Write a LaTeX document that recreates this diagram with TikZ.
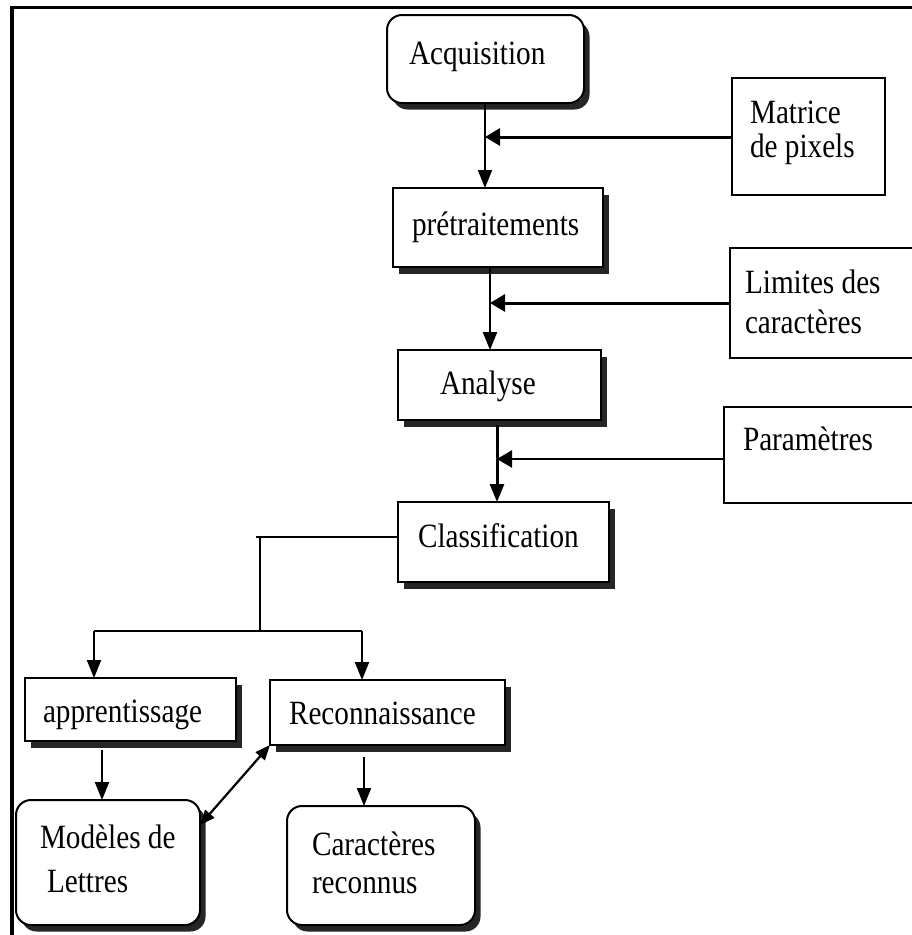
\documentclass[tikz,border=0pt]{standalone}
\usepackage{fontspec}
\setmainfont{Liberation Serif}[FakeStretch=0.86]
\usetikzlibrary{arrows.meta,shadows}
\begin{document}
\begin{tikzpicture}[x=1pt,y=-1pt,
  every node/.style={inner sep=0pt, outer sep=0pt},
  box/.style={draw, line width=2pt, fill=white,
    drop shadow={shadow xshift=5.5pt, shadow yshift=-6.5pt, fill=black!85, opacity=1}},
  rbox/.style={box, rounded corners=15pt},
  sidebox/.style={draw, line width=1.7pt, fill=white},
  lbl/.style={anchor=base west, font=\fontsize{34}{38}\selectfont},
  link/.style={line width=2pt},
  arr/.style={line width=2pt, -{Triangle[length=18pt,width=14pt]}},
  harr/.style={line width=3pt, -{Triangle[length=15pt,width=17pt]}},
  darr/.style={line width=2.2pt, {Triangle[length=15pt,width=12pt]}-{Triangle[length=15pt,width=12pt]}}
]
\useasboundingbox (0,0) rectangle (911,935);
\fill[white] (0,0) rectangle (911,935);

% outer frame (top and left edges)
\draw[line width=3.5pt] (12,940) -- (12,7.5) -- (915,7.5);

% main chain
\node[rbox, minimum width=197pt, minimum height=88pt] (acq) at (485.5,59) {};
\node[lbl] (acq-t) at (409,64) {Acquisition};

\node[box, minimum width=210pt, minimum height=79pt] (pre) at (498,227.5) {};
\node[lbl] (pre-t) at (412,235) {prétraitements};

\node[box, minimum width=203pt, minimum height=70pt] (ana) at (499.5,385) {};
\node[lbl] (ana-t) at (440,394) {Analyse};

\node[box, minimum width=211pt, minimum height=80pt] (cla) at (503.5,542) {};
\node[lbl] (cla-t) at (418,547) {Classification};

% side inputs
\node[sidebox, minimum width=153pt, minimum height=117pt] (mat) at (808.5,136.5) {};
\node[lbl] (mat-t1) at (750,123) {Matrice};
\node[lbl] (mat-t2) at (750,157) {de pixels};

\node[sidebox, minimum width=195pt, minimum height=110pt] (lim) at (827.5,303) {};
\node[lbl] (lim-t1) at (745,293) {Limites des};
\node[lbl] (lim-t2) at (745,333) {caractères};

\node[sidebox, minimum width=201pt, minimum height=96pt] (par) at (824.5,455) {};
\node[lbl] (par-t) at (743,450) {Paramètres};

% lower branch
\node[box, minimum width=211pt, minimum height=63pt] (app) at (130.5,709.5) {};
\node[lbl] (app-t) at (43,722) {apprentissage};

\node[box, minimum width=235pt, minimum height=65pt] (rec) at (387.5,712.5) {};
\node[lbl] (rec-t) at (289,724) {Reconnaissance};

\node[rbox, minimum width=184pt, minimum height=125pt] (mod) at (108,862.5) {};
\node[lbl] (mod-t1) at (40,848) {Modèles de};
\node[lbl] (mod-t2) at (47,892) {Lettres};

\node[rbox, minimum width=188pt, minimum height=119pt] (car) at (381,865.5) {};
\node[lbl] (car-t1) at (312,855) {Caractères};
\node[lbl] (car-t2) at (312,893) {reconnus};

% junction points
\coordinate (j1) at (485,137);
\coordinate (j2) at (490,303);
\coordinate (j3) at (497,459);
\coordinate (b00) at (256,537);
\coordinate (b0) at (260,537);
\coordinate (b1) at (260,631);
\coordinate (bl) at (94,631);
\coordinate (br) at (362,631);
\coordinate (m1) at (102,750);
\coordinate (m2) at (364,757);

% connectors of the main chain
\draw[arr] (acq.south -| j1) -- (pre.north -| j1);
\draw[harr] (mat.west |- j1) -- (j1);
\draw[arr, line width=2.4pt] (pre.south -| j2) -- (ana.north -| j2);
\draw[harr] (lim.west |- j2) -- (j2);
\draw[arr, line width=3pt] ([yshift=-5pt]ana.south -| j3) -- (cla.north -| j3);
\draw[harr, line width=2.6pt] (par.west |- j3) -- (j3);

% branching towards learning and recognition
\draw[link] (cla.west |- b00) -- (b00);
\draw[link] (b0) -- (b1);
\draw[link] (bl) -- (br);
\draw[arr] (bl) -- (app.north -| bl);
\draw[arr] (br) -- (rec.north -| br);

% outputs
\draw[arr] (m1) -- (mod.north -| m1);
\draw[arr] (m2) -- (car.north -| m2);
\draw[darr] (rec.south west) -- ([yshift=-25pt]mod.north east);
\end{tikzpicture}
\end{document}
